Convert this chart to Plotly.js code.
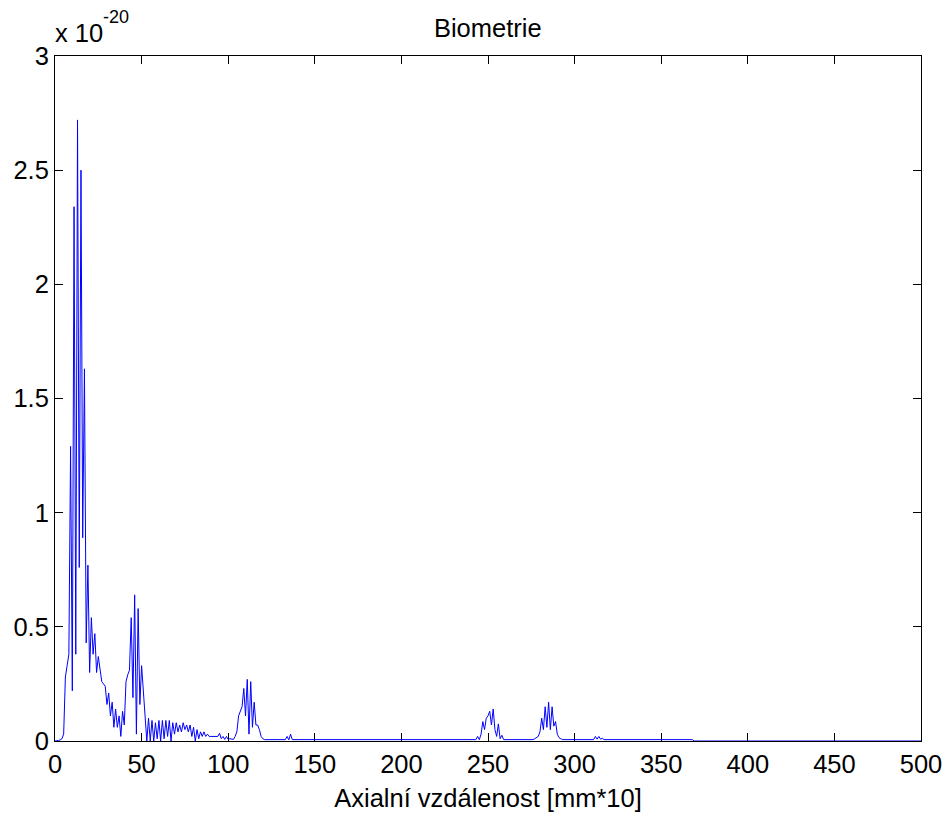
<!DOCTYPE html>
<html>
<head>
<meta charset="utf-8">
<script src="https://cdn.plot.ly/plotly-3.0.1.min.js"></script>
<style>html,body{margin:0;padding:0;background:#fff;}#chart{width:949px;height:815px;}</style>
</head>
<body>
<div id="chart"></div>
<script>
// Values are in units of 1e-20 (axis shows "x 10^-20")
// Segment A: dense samples, one per unit starting at x = 0
const segAStart = 0;
const segAValues = [
  0, 0, 0.002, 0.005, 0.01, 0.03, 0.28, 0.33, 0.38, 1.29,
  0.22, 2.34, 0.38, 2.72, 0.76, 2.50, 0.89, 1.63, 0.43, 0.77,
  0.30, 0.54, 0.38, 0.47, 0.30, 0.37, 0.30, 0.26, 0.25, 0.24,
  0.16, 0.21, 0.11, 0.17, 0.06, 0.14, 0.06, 0.11, 0.02, 0.13,
  0.07, 0.26, 0.29, 0.31, 0.54, 0.19, 0.64, 0.03, 0.58, 0.16,
  0.33, 0.22, 0.12, 0.0, 0.10, 0.0, 0.09, 0.0, 0.08, 0.01,
  0.09, 0.0, 0.09, 0.01, 0.09, 0.02, 0.09, 0.0, 0.08, 0.03,
  0.08, 0.04, 0.07, 0.04, 0.08, 0.05, 0.07, 0.04, 0.07, 0.02,
  0.06, 0.0, 0.05, 0.01, 0.04, 0.02, 0.04, 0.02, 0.03, 0.02,
  0.02, 0.02, 0.02, 0.02, 0.02, 0.034, 0.01, 0.02, 0.007, 0.02,
  0.007, 0.01, 0.007, 0.007, 0.02, 0.04, 0.11, 0.13, 0.15, 0.23,
  0.11, 0.27, 0.03, 0.26, 0.06, 0.17, 0.07, 0.07, 0.05, 0.02,
  0.01
];
// Segment B: sparse points for the low tail and the small later echoes
const segBX = [121, 133, 134, 135, 136, 137,
  243, 244, 245, 246, 247, 248, 249, 250, 251, 252, 253, 254, 255, 256, 257, 258, 259,
  276, 277, 278, 279, 280, 281, 282, 283, 284, 285, 286, 287, 288, 289, 290, 291, 292, 293,
  311, 312, 313, 314, 315, 316, 317, 368, 369, 500];
const segBValues = [0.006, 0.006, 0.02, 0.005, 0.03, 0.006,
  0.006, 0.02, 0.006, 0.03, 0.085, 0.05, 0.10, 0.11, 0.13, 0.07, 0.14, 0.05, 0.02, 0.075, 0.01, 0.025, 0.006,
  0.006, 0.01, 0.015, 0.02, 0.04, 0.10, 0.05, 0.15, 0.06, 0.17, 0.05, 0.15, 0.065, 0.085, 0.03, 0.015, 0.01, 0.006,
  0.006, 0.02, 0.008, 0.02, 0.008, 0.012, 0.006, 0.006, 0, 0];

const xTicks = [0, 50, 100, 150, 200, 250, 300, 350, 400, 450, 500];
const yTicks = [0, 0.5, 1, 1.5, 2, 2.5, 3];

const xs = segAValues.map((v, i) => segAStart + i).concat(segBX);
const ys = segAValues.concat(segBValues);

const FONT = "'Liberation Sans', Arial, Helvetica, sans-serif";
const FS = 25.5;

const trace = {
  x: xs, y: ys, type: 'scatter', mode: 'lines',
  line: {color: '#0000ff', width: 1},
  hoverinfo: 'skip', showlegend: false
};

const axisCommon = {
  showline: true, mirror: 'allticks', linecolor: '#000', linewidth: 1,
  ticks: 'inside', ticklen: 8, tickwidth: 1, tickcolor: '#000',
  showgrid: false, zeroline: false, layer: 'below traces',
  tickfont: {family: FONT, size: FS, color: '#000'}
};

const layout = {
  width: 949, height: 815,
  margin: {l: 55, r: 28, t: 56, b: 74},
  paper_bgcolor: '#fff', plot_bgcolor: '#fff',
  font: {family: FONT, size: FS, color: '#000'},
  title: {text: 'Biometrie', x: 0.514, xanchor: 'center', y: 0.966, yanchor: 'middle',
          font: {family: FONT, size: FS, color: '#000'}},
  xaxis: Object.assign({}, axisCommon, {
    range: [0, 500], tickvals: xTicks, ticktext: xTicks.map(String), ticklabelstandoff: 0,
    title: {text: 'Axialní vzdálenost [mm*10]', font: {family: FONT, size: FS, color: '#000'}, standoff: 12}
  }),
  yaxis: Object.assign({}, axisCommon, {
    range: [0, 3], tickvals: yTicks, ticktext: yTicks.map(String)
  }),
  annotations: [
    {text: 'x 10', xref: 'paper', yref: 'paper', x: 0, y: 1,
     xanchor: 'left', yanchor: 'middle', yshift: 23, xshift: -2, showarrow: false,
     font: {family: FONT, size: FS, color: '#000'}},
    {text: '-20', xref: 'paper', yref: 'paper', x: 0, y: 1,
     xanchor: 'left', yanchor: 'middle', yshift: 39, xshift: 46, showarrow: false,
     font: {family: FONT, size: 18, color: '#000'}}
  ]
};

Plotly.newPlot('chart', [trace], layout, {displayModeBar: false, staticPlot: true});
</script>
</body>
</html>
